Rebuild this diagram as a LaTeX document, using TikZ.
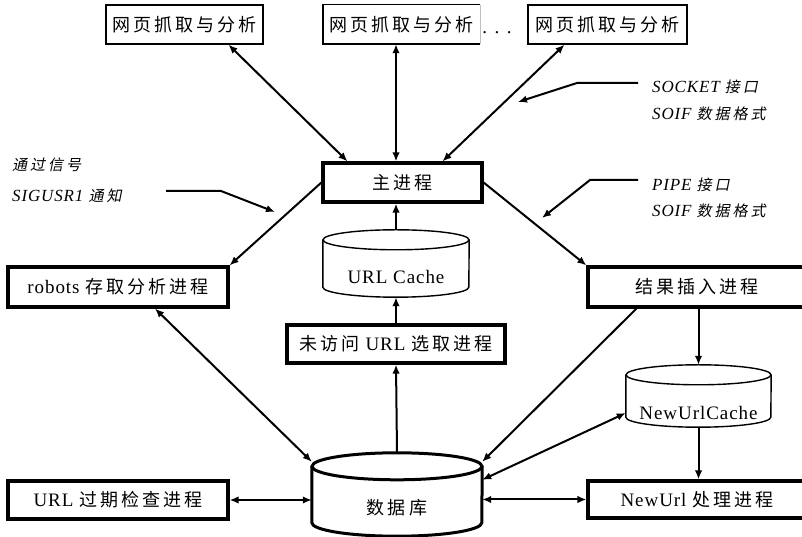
\documentclass[tikz,border=0pt]{standalone}
\usepackage{fontspec}
\setmainfont{Liberation Serif}[LetterSpace=5]
\newfontfamily\cjk{Noto Sans CJK SC}[LetterSpace=17]
\newfontfamily\cjkit{Noto Sans CJK SC}[FakeSlant=0.2,LetterSpace=20]
\usetikzlibrary{arrows.meta,calc}
\newcommand{\zh}[1]{{\cjk\fontsize{18}{22}\selectfont #1}}
\newcommand{\zhit}[1]{{\cjkit\fontsize{15}{18}\selectfont #1}}

\begin{document}
\begin{tikzpicture}[x=1pt, y=1pt,
    >={Latex[length=9pt,width=7.5pt]},
    every node/.style={font=\fontsize{19}{22}\selectfont},
    box/.style={draw, line width=1.4pt, inner sep=0pt, minimum height=39pt},
    proc/.style={draw, line width=3.2pt, inner sep=0pt, minimum height=39pt},
    face/.style={inner sep=0pt},
    link/.style={line width=2pt},
    note/.style={anchor=west, inner sep=0pt, font=\itshape\fontsize{17}{20}\selectfont}]
        \useasboundingbox (0, 0) rectangle (802, 537);
        % top row
        \node[box, minimum width=157pt] (W1) at (184.5, 512.5) {\zh{网页抓取与分析}};
        \node[inner sep=0pt, minimum width=157pt, minimum height=39pt] (W2) at (401.5, 512.5) {\zh{网页抓取与分析}};
        \node[anchor=base] (dots) at (497, 503) {. . .};
        \node[box, minimum width=159pt] (W3) at (607.5, 512.5) {\zh{网页抓取与分析}};
        \draw[line width=1.4pt] (W2.north east) -- (W2.north west) -- (W2.south west) -- (W2.south east);
        \draw[line width=0.6pt, black!25] (W2.north east) -- (W2.south east);
        % processes
        \node[proc, minimum width=159pt] (main) at (402.5, 354.5) {\zh{主进程}};
        \node[proc, minimum width=220pt, minimum height=40pt] (robots) at (118, 250) {robots \zh{存取分析进程}};
        \node[proc, minimum width=218pt, minimum height=40pt] (insert) at (697, 250) {\zh{结果插入进程}};
        \node[proc, minimum width=218pt, minimum height=38pt] (select) at (396, 193) {\zh{未访问} URL \zh{选取进程}};
        \node[proc, minimum width=220pt, minimum height=38pt] (expire) at (118, 37) {URL \zh{过期检查进程}};
        \node[proc, minimum width=218pt, minimum height=37pt] (nuproc) at (697, 37.5) {NewUrl \zh{处理进程}};
        % caches and database
        \node[face, minimum width=146pt, minimum height=47pt, text height=20pt, text depth=0pt] (ucache) at (396, 263.5) {URL Cache};
        \draw[line width=1.4pt] ([yshift=10pt]ucache.north west) -- ([yshift=10pt]ucache.south west)
            arc[start angle=180, end angle=360, x radius=73pt, y radius=10pt] -- ([yshift=10pt]ucache.north east);
        \draw[line width=1.4pt] ([yshift=10pt]ucache.north) ellipse[x radius=73pt, y radius=10pt];
        \node[face, minimum width=145pt, minimum height=42pt, text height=27pt, text depth=0pt] (nucache) at (698.5, 131) {NewUrlCache};
        \draw[line width=1.4pt] ([yshift=10pt]nucache.north west) -- ([yshift=10pt]nucache.south west)
            arc[start angle=180, end angle=360, x radius=72.5pt, y radius=10pt] -- ([yshift=10pt]nucache.north east);
        \draw[line width=1.4pt] ([yshift=10pt]nucache.north) ellipse[x radius=72.5pt, y radius=10pt];
        \node[face, minimum width=170pt, minimum height=56pt] (db) at (397, 29) {\zh{数据库}};
        \draw[line width=3pt] ([yshift=13.5pt]db.north west) -- ([yshift=13.5pt]db.south west)
            arc[start angle=180, end angle=360, x radius=85pt, y radius=13.5pt] -- ([yshift=13.5pt]db.north east);
        \draw[line width=3pt] ([yshift=13.5pt]db.north) ellipse[x radius=85pt, y radius=13.5pt];
        % connectors
        \draw[link, <->] ([xshift=44pt]W1.south) -- ([xshift=-55pt]main.north);
        \draw[link, <->] (W2.south -| ucache.north) -- (main.north -| ucache.north);
        \draw[link, <->] ([xshift=-43pt]W3.south) -- ([xshift=40pt]main.north);
        \draw[link, ->] (main.west) -- (robots.north east);
        \draw[link, ->] (main.east) -- (insert.north west);
        \draw[link, ->] ([yshift=20pt]ucache.north) -- (main.south -| ucache.north);
        \draw[link, ->] (select.north) -- (ucache.south);
        \draw[link, ->] ([yshift=27pt]db.north) -- (select.south);
        \draw[link, <->] ([xshift=37pt]robots.south) -- ([yshift=18pt]db.north west);
        \draw[link, <->] (expire.east) -- (expire.east -| db.west);
        \draw[link, ->] ([xshift=50pt]insert.south west) -- ([yshift=18pt]db.north east);
        \draw[link, <->] ([yshift=-7pt]nucache.west) -- (db.north east);
        \draw[link, <->] (nuproc.west) -- (nuproc.west -| db.east);
        \draw[link, ->] (insert.south -| nucache.north) -- ([yshift=20pt]nucache.north);
        \draw[link, ->] (nucache.south) -- (nucache.south |- nuproc.north);
        % notes
        \node[note] (sockA) at (652, 450) {SOCKET \zhit{接口}};
        \node[note] (sockB) at (652, 423) {SOIF \zhit{数据格式}};
        \node[note] (pipeA) at (652, 352) {PIPE \zhit{接口}};
        \node[note] (pipeB) at (652, 326) {SOIF \zhit{数据格式}};
        \node[note] (sigA)  at (12, 372) {\zhit{通过信号}};
        \node[note] (sigB)  at (12, 341) {SIGUSR1 \zhit{通知}};
        \coordinate (sockFrom) at (638, 454);
        \coordinate (sockTip)  at (518, 435);
        \coordinate (pipeFrom) at (638, 357);
        \coordinate (pipeTip)  at (542, 319);
        \coordinate (sigFrom)  at (166, 346);
        \coordinate (sigTip)   at (275, 325);
        \draw[link, ->] (sockFrom) -- ++(-61, 0) -- (sockTip);
        \draw[link, ->] (pipeFrom) -- ++(-48, 0) -- (pipeTip);
        \draw[link, ->] (sigFrom)  -- ++(55, 0)  -- (sigTip);
\end{tikzpicture}
\end{document}
